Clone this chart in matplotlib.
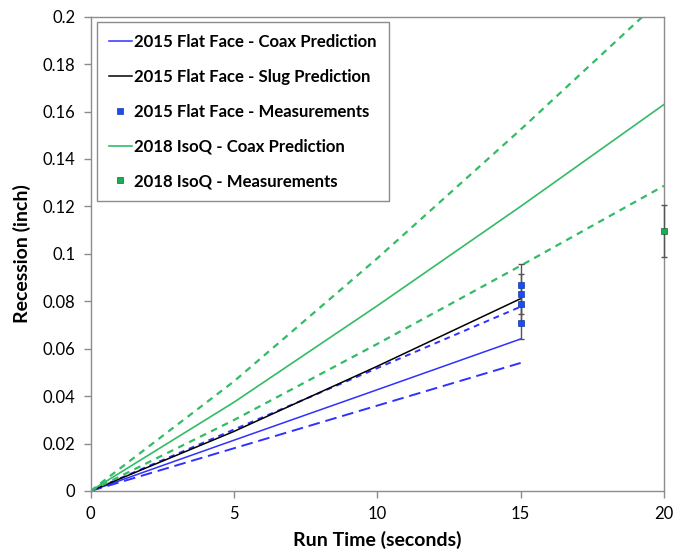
import matplotlib
matplotlib.use("Agg")
import matplotlib.pyplot as plt

plt.rcParams['font.family'] = ['Lato', 'DejaVu Sans']

# Run time grid for the predictions (seconds)
t_2015 = [0, 5, 10, 15]
t_2018 = [0, 5, 10, 15, 20]

# 2015 Flat Face predictions (inch)
ff_coax = [0, 0.0214, 0.0427, 0.0641]
ff_coax_low = [0, 0.0180, 0.0360, 0.0540]
ff_coax_high = [0, 0.0259, 0.0518, 0.0777]
ff_slug = [0, 0.0251, 0.0526, 0.0811]

# 2018 IsoQ predictions (inch)
iq_coax = [0, 0.0374, 0.0781, 0.1200, 0.1630]
iq_coax_high = [0, 0.0462, 0.0981, 0.1524, 0.2084]
iq_coax_low = [0, 0.0299, 0.0620, 0.0950, 0.1287]

# Measurements (inch), +/-10% uncertainty
ff_meas_t = [15, 15, 15, 15]
ff_meas = [0.087, 0.083, 0.079, 0.071]
iq_meas_t = [20]
iq_meas = [0.1096]
meas_err_frac = 0.10

x_ticks = [0, 5, 10, 15, 20]
y_ticks = [0, 0.02, 0.04, 0.06, 0.08, 0.1, 0.12, 0.14, 0.16, 0.18, 0.2]
y_tick_labels = ['0', '0.02', '0.04', '0.06', '0.08', '0.1', '0.12', '0.14', '0.16', '0.18', '0.2']

blue = '#3030ff'
blue_mk = '#1a4cff'
green = '#33bb66'
green_mk = '#1faa55'
err_col = '#555555'

fig = plt.figure(figsize=(6.73, 5.50), dpi=100)
ax = fig.add_axes([0.1345, 0.1073, 0.8521, 0.8623])

# 2015 predictions
ax.plot(t_2015, ff_coax, color=blue, lw=1.1, label='2015 Flat Face - Coax Prediction')
ax.plot(t_2015, ff_coax_low, color=blue, lw=1.4, dashes=(6, 3))
ax.plot(t_2015, ff_coax_high, color=blue, lw=1.4, dashes=(3, 2.5))
ax.plot(t_2015, ff_slug, color='black', lw=1.1, label='2015 Flat Face - Slug Prediction')

# 2015 measurements
ax.errorbar(ff_meas_t, ff_meas, yerr=[v * meas_err_frac for v in ff_meas],
            fmt='none', ecolor=err_col, elinewidth=1.0, capsize=2, capthick=1.0,
            zorder=3, clip_on=False)
ax.plot(ff_meas_t, ff_meas, 's', color=blue_mk, mec='#1a3a99', mew=0.5, ms=4.8,
        label='2015 Flat Face - Measurements', zorder=4, clip_on=False)

# 2018 predictions
ax.plot(t_2018, iq_coax, color=green, lw=1.2, label='2018 IsoQ - Coax Prediction')
ax.plot(t_2018, iq_coax_high, color=green, lw=1.6, dashes=(3, 2.5))
ax.plot(t_2018, iq_coax_low, color=green, lw=1.6, dashes=(3, 2.5))

# 2018 measurement
eb = ax.errorbar(iq_meas_t, iq_meas, yerr=[v * meas_err_frac for v in iq_meas],
                 fmt='none', ecolor=err_col, elinewidth=1.0, capsize=2, capthick=1.0,
                 zorder=3)
for art in eb.lines[1] + eb.lines[2]:
    art.set_clip_on(False)
ax.plot(iq_meas_t, iq_meas, 's', color=green_mk, mec='#1a6633', mew=0.5, ms=4.8,
        label='2018 IsoQ - Measurements', zorder=4, clip_on=False)

ax.set_xlim(0, 20)
ax.set_ylim(0, 0.2)
ax.set_xticks(x_ticks)
ax.set_xticklabels([str(v) for v in x_ticks])
ax.set_yticks(y_ticks)
ax.set_yticklabels(y_tick_labels)
ax.tick_params(axis='both', labelsize=12, colors='#8c8c8c', labelcolor='black',
               length=5, width=1, direction='out', pad=6)
for sp in ax.spines.values():
    sp.set_color('#8c8c8c')
    sp.set_linewidth(1.0)

ax.set_xlabel('Run Time (seconds)', fontsize=14, fontweight='bold', labelpad=6)
ax.set_ylabel('Recession (inch)', fontsize=14, fontweight='bold', labelpad=8)

leg = ax.legend(loc='upper left', bbox_to_anchor=(0.011, 0.989), borderaxespad=0,
                prop={'family': ['Lato', 'DejaVu Sans'], 'weight': 'bold', 'size': 12.1},
                frameon=True, fancybox=False, edgecolor='#8c8c8c', framealpha=1,
                labelspacing=1.12, handlelength=1.35, handletextpad=0.15,
                borderpad=0.72, markerscale=0.85)
leg.get_frame().set_linewidth(1.0)

fig.savefig('out.png', dpi=100)
